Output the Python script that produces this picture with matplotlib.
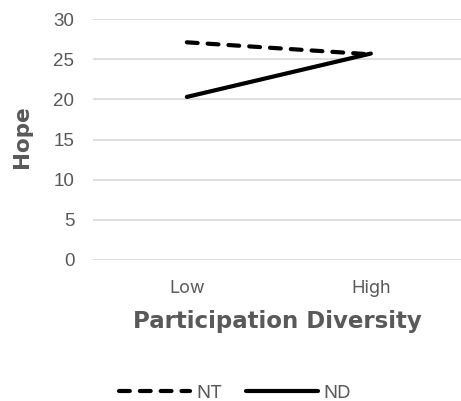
import matplotlib
matplotlib.use("Agg")
import matplotlib.pyplot as plt

# Interaction plot: Hope by participation diversity for NT and ND groups
categories = ["Low", "High"]
nt_values = [27.1, 25.6]
nd_values = [20.3, 25.7]
series_names = ["NT", "ND"]
y_ticks = [0, 5, 10, 15, 20, 25, 30]

text_gray = "#595959"
grid_gray = "#D9D9D9"

fig = plt.figure(figsize=(4.61, 4.01), dpi=100)
ax = fig.add_axes([93 / 461, (401 - 260) / 401, (461 - 93) / 461, 241 / 401])

x = list(range(len(categories)))
nt_line, = ax.plot(x, nt_values, color="black", linewidth=3.0,
                   linestyle=(0, (2.6, 2.4)), dash_capstyle="round",
                   solid_capstyle="round", label=series_names[0])
nd_line, = ax.plot(x, nd_values, color="black", linewidth=3.0,
                   solid_capstyle="round", label=series_names[1])

ax.set_xlim(-0.51, 1.49)
ax.set_ylim(0, 30)
ax.set_yticks(y_ticks)
ax.set_yticklabels([str(v) for v in y_ticks], family="Liberation Sans",
                   fontsize=13.5, color=text_gray)
ax.set_xticks(x)
ax.set_xticklabels(categories, family="Inter", fontsize=13, color=text_gray)
ax.tick_params(axis="both", length=0)
ax.tick_params(axis="y", pad=13.5)
ax.tick_params(axis="x", pad=14.5)

ax.grid(axis="y", color=grid_gray, linewidth=1.2)
ax.set_axisbelow(True)
for s in ax.spines.values():
    s.set_visible(False)

ax.set_xlabel("Participation Diversity", family="DejaVu Sans", fontsize=16.5,
              fontweight="bold", color=text_gray, labelpad=9.5)
ax.set_ylabel("Hope", family="DejaVu Sans", fontsize=15.5, fontweight="bold",
              color=text_gray)
ax.yaxis.set_label_coords(-0.165, 0.51)

fig.legend(handles=[nt_line, nd_line], loc="center",
           bbox_to_anchor=(235 / 461, 1 - 393 / 401), ncol=2, frameon=False,
           handlelength=3.8, handletextpad=0.3, columnspacing=1.3,
           prop={"family": "Inter", "size": 13.5}, labelcolor=text_gray)

fig.savefig("out.png", dpi=100)
